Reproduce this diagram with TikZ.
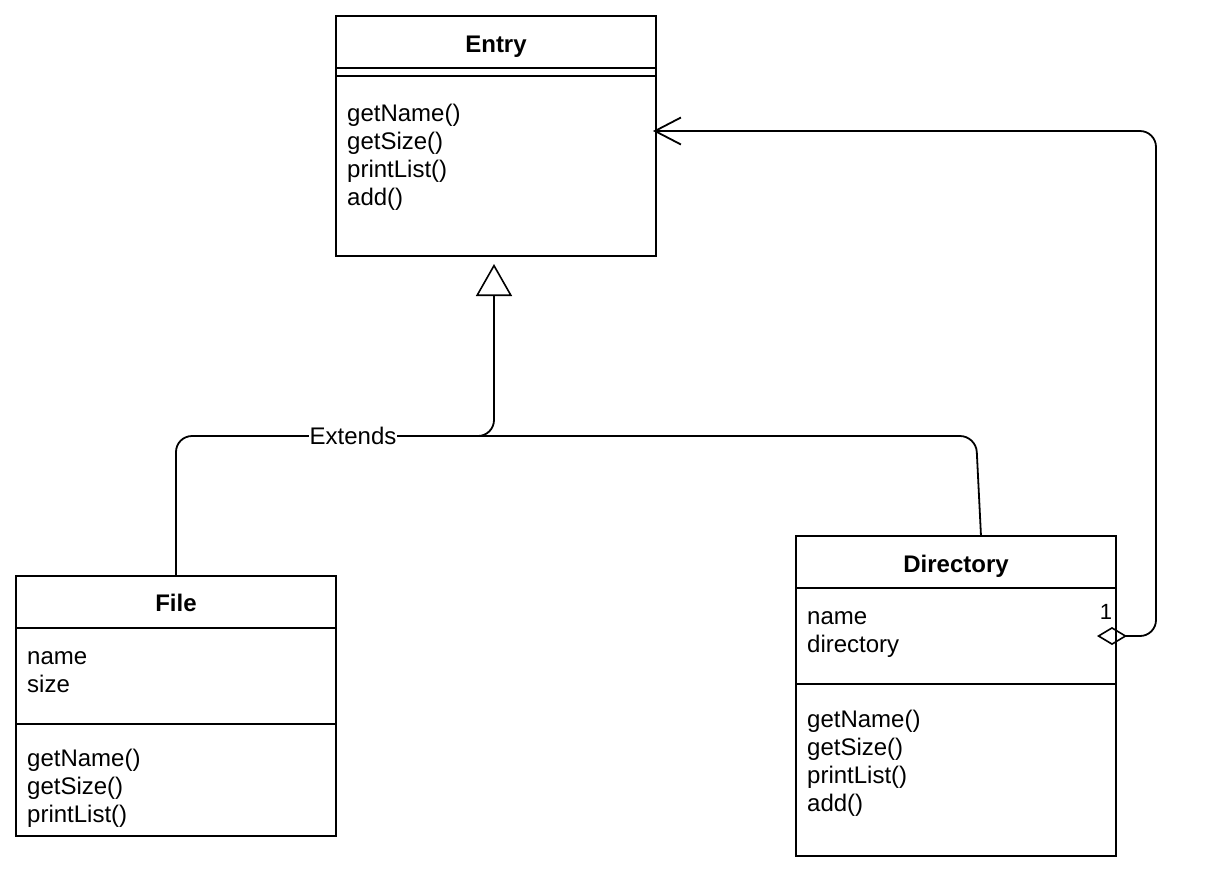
\documentclass[tikz,border=0pt]{standalone}
\usepackage{fontspec}
\setmainfont{Liberation Sans}
\usetikzlibrary{arrows.meta}
\tikzset{
  cls/.style={draw=black, line width=1.6pt, inner sep=0pt, outer sep=0pt, anchor=north west},
  sep/.style={draw=black, line width=1.6pt},
  ttl/.style={font=\fontsize{24}{28}\selectfont\bfseries, inner sep=0pt, anchor=base},
  txt/.style={font=\fontsize{24}{28}\selectfont, inner sep=0pt, anchor=base west, align=left},
  conn/.style={draw=black, line width=1.8pt, rounded corners=16pt},
  lbl/.style={font=\fontsize{24}{28}\selectfont, fill=white, inner sep=1pt},
}
\begin{document}
\begin{tikzpicture}[x=1pt,y=-1pt]
\useasboundingbox[fill=white] (0,0) rectangle (1208,879);

% Entry
\node[cls, minimum width=320pt, minimum height=240pt] (entry) at (336,16) {};
\draw[sep] (336,68) -- (656,68);
\draw[sep] (336,76) -- (656,76);
\node[ttl] (entryT) at (496,52.5) {Entry};
\node[txt] (entryM) at (347,205.7) {getName()\\getSize()\\printList()\\add()};

% File
\node[cls, minimum width=320pt, minimum height=260pt] (file) at (16,576) {};
\draw[sep] (16,628) -- (336,628);
\draw[sep] (16,724) -- (336,724);
\node[ttl] (fileT) at (176,611.7) {File};
\node[txt] (fileA) at (27,692.3) {name\\size};
\node[txt] (fileM) at (27,822.7) {getName()\\getSize()\\printList()};

% Directory
\node[cls, minimum width=320pt, minimum height=320pt] (dir) at (796,536) {};
\draw[sep] (796,588) -- (1116,588);
\draw[sep] (796,684) -- (1116,684);
\node[ttl] (dirT) at (956,572.5) {Directory};
\node[txt] (dirA) at (807,652.3) {name\\directory};
\node[txt] (dirM) at (807,811) {getName()\\getSize()\\printList()\\add()};

% connectors
\coordinate (fileTop) at (176,576);
\coordinate (genTip) at (494,264);
\coordinate (dirTop) at (981,536);
\coordinate (dirJoin) at (456,436);
\coordinate (aggStart) at (1097,636);
\coordinate (entryRight) at (653,131);

\draw[conn, -{Triangle[open, length=32pt, width=36pt, line width=1.6pt]}]
  (fileTop) -- (176,436) -- (494,436) -- (genTip);
\node[lbl] (ext) at (353,436) {Extends};
\draw[conn] (dirTop) -- (976,436) -- (dirJoin);

\draw[conn, {Diamond[open, length=30pt, width=18pt, line width=1.6pt]}-{Straight Barb[length=26pt, width=27pt, line width=1.8pt]}]
  (aggStart) -- (1156,636) -- (1156,131) -- (entryRight);
\node[font=\fontsize{22}{26}\selectfont, inner sep=0pt] (mult) at (1106,612) {1};
\end{tikzpicture}
\end{document}
